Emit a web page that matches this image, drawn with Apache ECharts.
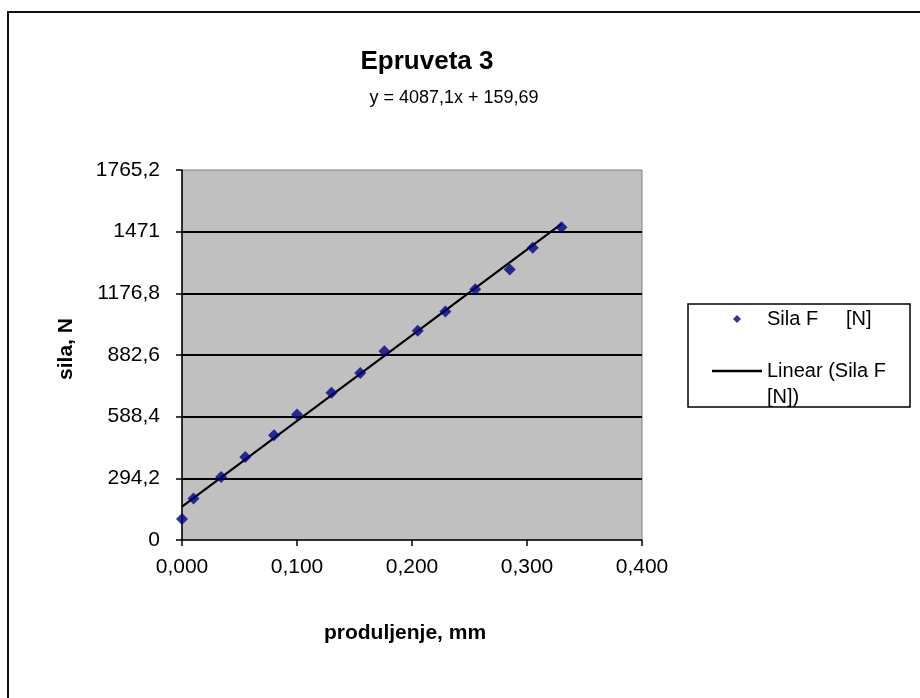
<!DOCTYPE html>
<html>
<head>
<meta charset="utf-8">
<script src="https://cdn.jsdelivr.net/npm/echarts@6/dist/echarts.min.js"></script>
<style>
  html, body { margin: 0; padding: 0; background: #fff; }
  #chart { width: 920px; height: 698px; }
</style>
</head>
<body>
<div id="chart"></div>
<script>
// produljenje, mm
var elongation = [0.000, 0.010, 0.034, 0.055, 0.080, 0.100, 0.130, 0.155, 0.176,
  0.205, 0.229, 0.255, 0.285, 0.305, 0.330];
// sila F, N
var force = [100, 198, 301, 396, 500, 599, 702, 797, 900,
  998, 1090, 1196, 1291, 1394, 1492];
// trend line from the printed equation
var slope = 4087.1;
var intercept = 159.69;
var yTicks = [0, 294.2, 588.4, 882.6, 1176.8, 1471, 1765.2];

var points = elongation.map(function (x, i) { return [x, force[i]]; });
var xMin = Math.min.apply(null, elongation);
var xMax = Math.max.apply(null, elongation);
var trend = [[xMin, slope * xMin + intercept], [xMax, slope * xMax + intercept]];

var font = "'Liberation Sans', Arial, sans-serif";
var myChart = echarts.init(document.getElementById("chart"));

var option = {
  backgroundColor: "#fff",
  animation: false,
  textStyle: { fontFamily: font },
  title: [
    {
      text: "Epruveta 3",
      left: 427, top: 49, textAlign: "center", padding: 0,
      textStyle: { fontFamily: font, fontSize: 26, fontWeight: "bold", color: "#000" }
    },
    {
      text: "y = 4087,1x + 159,69",
      left: 454, top: 89, textAlign: "center", padding: 0,
      textStyle: { fontFamily: font, fontSize: 18, fontWeight: "normal", color: "#000" }
    }
  ],
  graphic: [
    {
      type: "rect", silent: true,
      shape: { x: 8, y: 12, width: 1000, height: 1000 },
      style: { fill: "none", stroke: "#111", lineWidth: 2 }
    },
    {
      type: "rect", silent: true,
      shape: { x: 688, y: 304, width: 222, height: 103 },
      style: { fill: "#fff", stroke: "#000", lineWidth: 1.5 }
    }
  ],
  legend: {
    orient: "vertical",
    left: 712, top: 306,
    padding: 0,
    itemGap: 0,
    itemWidth: 50,
    itemHeight: 8,
    symbolKeepAspect: true,
    textStyle: { fontFamily: font, fontSize: 20, color: "#000", lineHeight: 26 },
    data: [
      { name: "Sila F     [N]", icon: "path://M5 0L10 5L5 10L0 5Z" },
      { name: "Linear (Sila F [N])", icon: "path://M0 0H50V2.5H0Z" }
    ],
    formatter: function (name) {
      if (name === "Linear (Sila F [N])") return "\nLinear (Sila F\n[N])";
      return name;
    }
  },
  grid: {
    left: 182, top: 170, width: 460, height: 370,
    show: true,
    backgroundColor: "#c0c0c0",
    borderColor: "#808080",
    borderWidth: 1
  },
  xAxis: {
    type: "value",
    min: 0, max: 0.4, interval: 0.1,
    name: "produljenje, mm",
    nameLocation: "middle",
    nameGap: 83,
    nameTextStyle: { fontFamily: font, fontSize: 21, fontWeight: "bold", color: "#000", padding: [0, 14, 0, 0] },
    axisLine: { show: true, onZero: false, lineStyle: { color: "#000", width: 1.5 } },
    axisTick: { show: true, length: 6, lineStyle: { color: "#000", width: 1.5 } },
    axisLabel: {
      margin: 17, color: "#000", fontSize: 21, fontFamily: font,
      formatter: function (v) { return v.toFixed(3).replace(".", ","); }
    },
    splitLine: { show: false }
  },
  yAxis: {
    type: "value",
    min: 0, max: 1765.2, interval: 294.2,
    name: "sila, N",
    nameLocation: "middle",
    nameGap: 105,
    nameTextStyle: { fontFamily: font, fontSize: 21, fontWeight: "bold", color: "#000", padding: [0, 0, 0, 12] },
    axisLine: { show: true, onZero: false, lineStyle: { color: "#000", width: 1.5 } },
    axisTick: { show: true, length: 6, lineStyle: { color: "#000", width: 1.5 } },
    axisLabel: {
      margin: 22, color: "#000", fontSize: 21, fontFamily: font,
      formatter: function (v) {
        var best = yTicks.reduce(function (a, b) { return Math.abs(b - v) < Math.abs(a - v) ? b : a; });
        return String(best).replace(".", ",");
      }
    },
    splitLine: { show: true, showMinLine: false, showMaxLine: false, lineStyle: { color: "#000", width: 2 } }
  },
  series: [
    {
      name: "Sila F     [N]",
      type: "scatter",
      symbol: "diamond",
      symbolSize: 12,
      itemStyle: { color: "#000080" },
      data: points,
      z: 3
    },
    {
      name: "Linear (Sila F [N])",
      type: "line",
      symbol: "none",
      lineStyle: { color: "#000", width: 2.2 },
      itemStyle: { color: "#000" },
      data: trend,
      z: 2
    }
  ]
};
option && myChart.setOption(option);
</script>
</body>
</html>
